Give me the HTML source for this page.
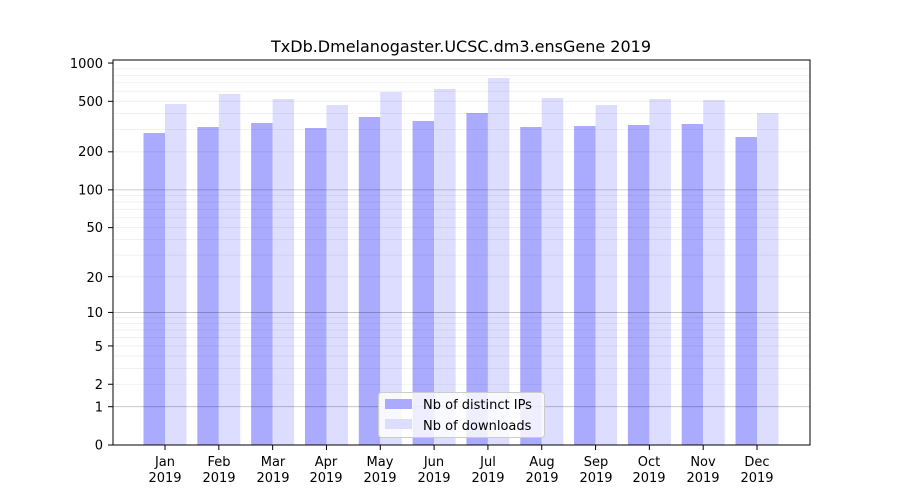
<!DOCTYPE html>
<html><head><meta charset="utf-8"><style>
html,body{margin:0;padding:0;background:#fff;}
svg{display:block;font-family:"DejaVu Sans","Liberation Sans",sans-serif;}
</style></head><body>
<svg id="s" width="900" height="500" viewBox="0 0 900 500" xmlns="http://www.w3.org/2000/svg">
<rect width="900" height="500" fill="#fff"/>
<g id="bars"></g>
<g id="grid"></g>
<rect x="113" y="60" width="697" height="385" fill="none" stroke="#000" stroke-width="1"/>
<g id="ticks"></g>
<text x="461" y="52" font-size="16" text-anchor="middle">TxDb.Dmelanogaster.UCSC.dm3.ensGene 2019</text>
<g font-size="13" text-anchor="end">
<text x="103" y="449.5">0</text>
<text x="103" y="411.5">1</text>
<text x="103" y="389">2</text>
<text x="103" y="351">5</text>
<text x="103" y="317">10</text>
<text x="103" y="282">20</text>
<text x="103" y="232">50</text>
<text x="103" y="194.5">100</text>
<text x="103" y="156">200</text>
<text x="103" y="106">500</text>
<text x="103" y="68">1000</text>
</g>
<g font-size="13" text-anchor="middle" id="xl">
<text x="165" y="466">Jan</text><text x="165" y="482">2019</text>
<text x="219" y="466">Feb</text><text x="219" y="482">2019</text>
<text x="273" y="466">Mar</text><text x="273" y="482">2019</text>
<text x="326" y="466">Apr</text><text x="326" y="482">2019</text>
<text x="380" y="466">May</text><text x="380" y="482">2019</text>
<text x="434" y="466">Jun</text><text x="434" y="482">2019</text>
<text x="488" y="466">Jul</text><text x="488" y="482">2019</text>
<text x="542" y="466">Aug</text><text x="542" y="482">2019</text>
<text x="596" y="466">Sep</text><text x="596" y="482">2019</text>
<text x="649" y="466">Oct</text><text x="649" y="482">2019</text>
<text x="703" y="466">Nov</text><text x="703" y="482">2019</text>
<text x="757" y="466">Dec</text><text x="757" y="482">2019</text>
</g>
<rect x="378.5" y="392.5" width="166" height="45" rx="3" fill="#fff" fill-opacity="0.8" stroke="#ccc"/>
<rect x="385" y="399" width="27" height="10" fill="#aaaaff"/>
<rect x="385" y="419" width="27" height="10" fill="#ddddff"/>
<text x="423" y="409" font-size="13">Nb of distinct IPs</text>
<text x="423" y="430" font-size="13">Nb of downloads</text>
</svg>
<script>
var NS="http://www.w3.org/2000/svg";
function y(v){return 445-127.3*Math.log10(v+1);}
function el(p,t,a){var e=document.createElementNS(NS,t);for(var k in a)e.setAttribute(k,a[k]);p.appendChild(e);return e;}
var g=document.getElementById("grid");
[1,10,100].forEach(function(d){for(var m=1;m<10;m++){var v=d*m;var yy=y(v);
el(g,"line",{x1:113,x2:810,y1:yy,y2:yy,stroke:"#000","stroke-opacity":m==1?0.25:0.07,"stroke-width":0.8});}});
var t=document.getElementById("ticks");
[0,1,2,5,10,20,50,100,200,500,1000].forEach(function(v){var yy=y(v);el(t,"line",{x1:108,x2:113,y1:yy,y2:yy,stroke:"#000"});});
for(var i=0;i<12;i++){var c=165+i*53.82;el(t,"line",{x1:c,x2:c,y1:445,y2:450,stroke:"#000"});}
var ip=[133,127,123,128,117,121,113,127,126,125,124,137];
var dl=[104,94,99,105,92,89,78,98,105,99,100,113];
var b=document.getElementById("bars");
for(var i=0;i<12;i++){var c=165+i*53.82;
el(b,"rect",{x:c-21.5,y:ip[i],width:21.5,height:445-ip[i],fill:"#aaaaff"});
el(b,"rect",{x:c,y:dl[i],width:21.5,height:445-dl[i],fill:"#ddddff"});}
</script>
</body></html>
